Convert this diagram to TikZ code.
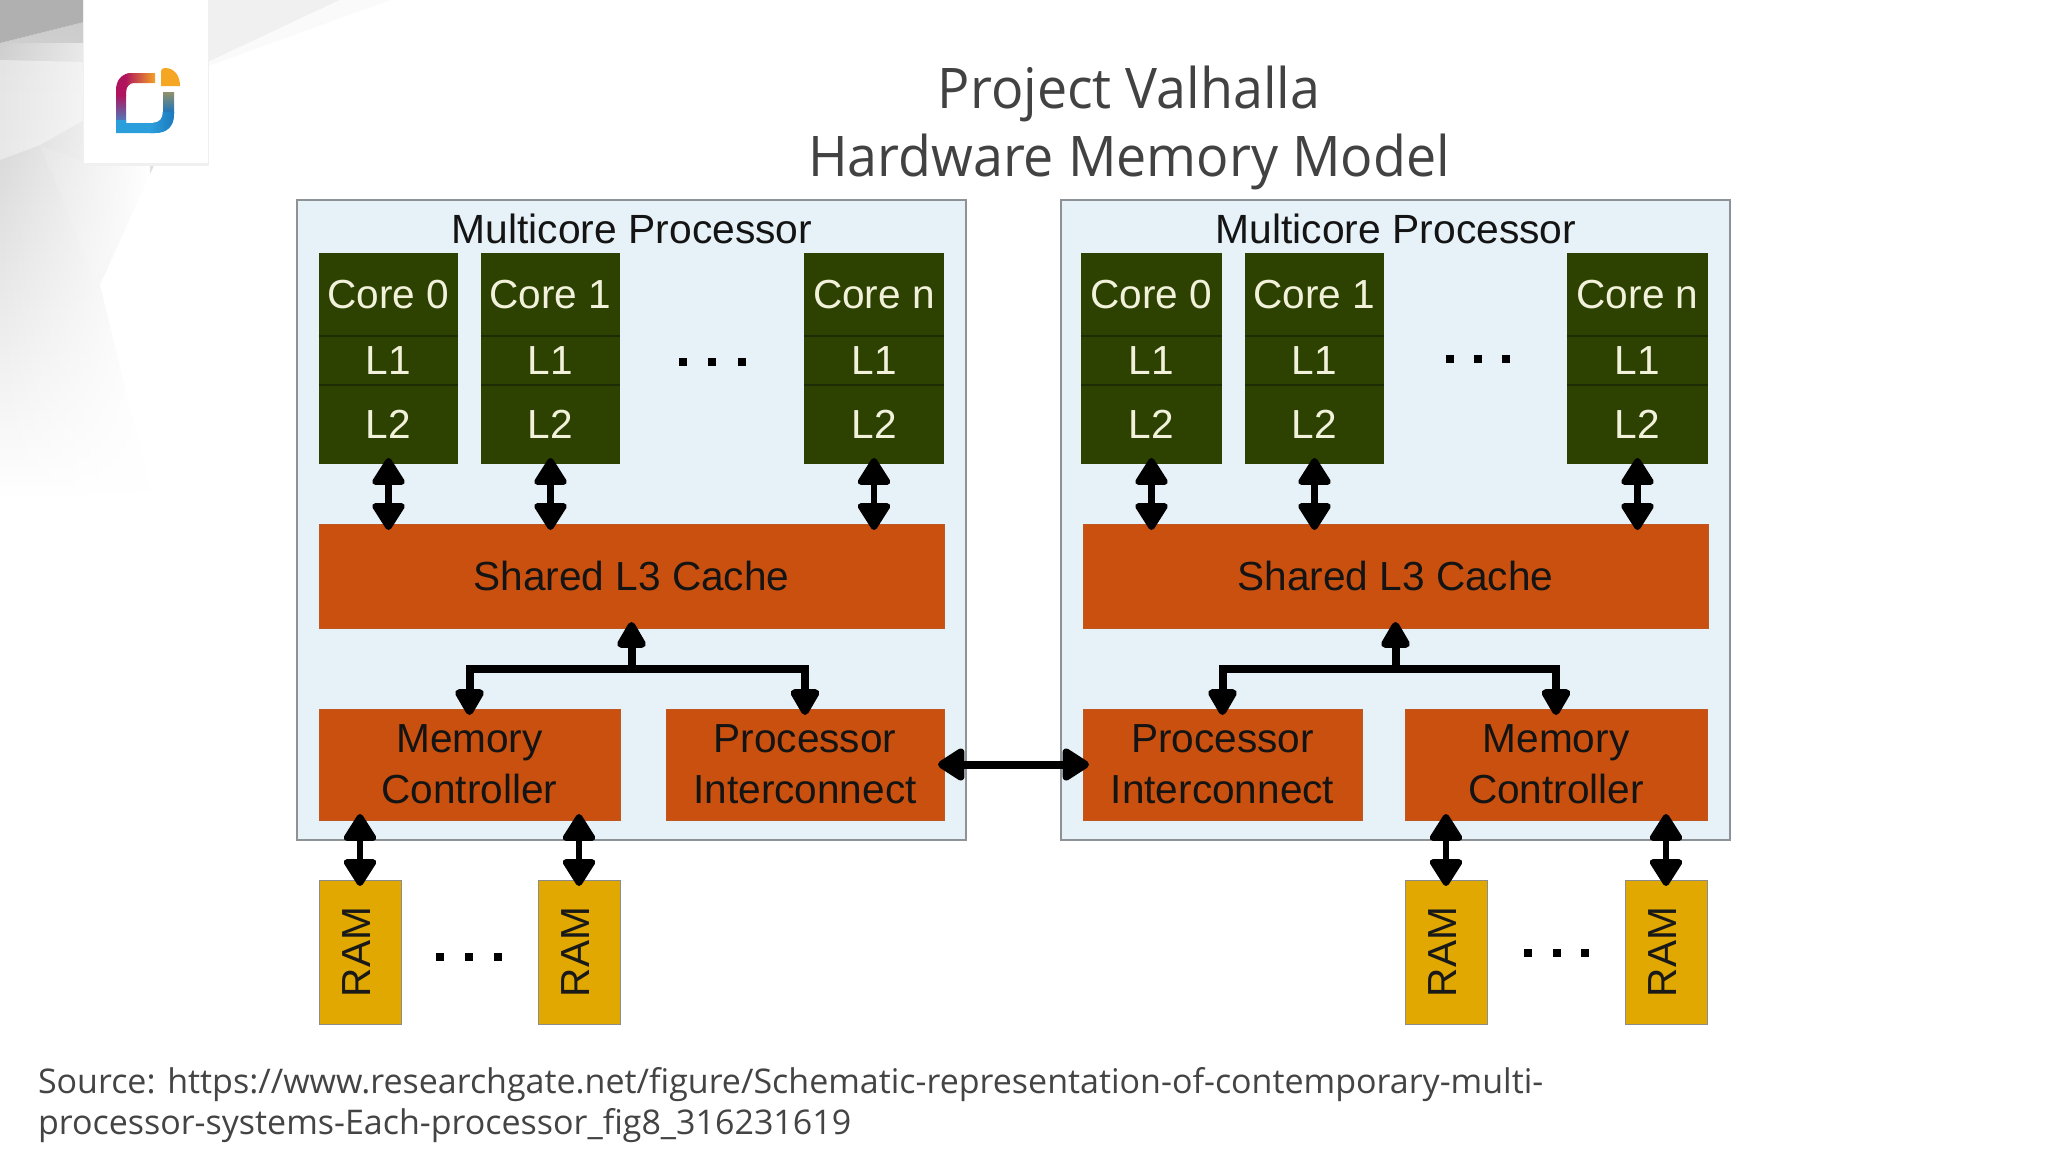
\documentclass[tikz,border=0pt]{standalone}
\usepackage{fontspec}
\setmainfont{Liberation Sans}
\newfontfamily\titlefont[FakeStretch=0.96]{Open Sans}
\newfontfamily\srcfont{Open Sans}
\usetikzlibrary{arrows.meta,fadings}
\definecolor{procbg}{HTML}{E7F2F8}
\definecolor{procln}{HTML}{8C9295}
\definecolor{coregreen}{HTML}{2D4200}
\definecolor{corediv}{HTML}{1E2C06}
\definecolor{corecream}{HTML}{F2F2DC}
\definecolor{cacheor}{HTML}{C9500F}
\definecolor{ramyel}{HTML}{E0A800}
\definecolor{titlegray}{HTML}{424242}
\definecolor{srcgray}{HTML}{444444}
\definecolor{logomag}{HTML}{B0145E}
\definecolor{logoorg}{HTML}{F5A623}
\definecolor{logoblu}{HTML}{2A9FDC}
\definecolor{logodbl}{HTML}{1C76BC}
\newcommand{\fsz}[2]{\fontsize{#1pt}{#2pt}\selectfont}
\newcommand{\bx}[7]{%
  \pgfmathsetmacro{\bxw}{(#5-#3)*0.5}%
  \pgfmathsetmacro{\bxh}{(#6-#4)*0.5}%
  \pgfmathsetmacro{\bxx}{(#3+#5)/2}%
  \pgfmathsetmacro{\bxy}{(#4+#6)/2}%
  \node[#2,minimum width=\bxw pt,minimum height=\bxh pt] (#1) at (\bxx,\bxy) {#7};}
\newcommand{\corecol}[4]{%
  \bx{#1a}{corecell}{#2}{253}{#3}{336}{#4}
  \bx{#1b}{corecell}{#2}{336}{#3}{385}{L1}
  \bx{#1c}{corecell}{#2}{385}{#3}{464}{L2}
  \draw[corediv,line width=1pt] (#1a.south west) -- (#1a.south east);
  \draw[corediv,line width=1pt] (#1b.south west) -- (#1b.south east);}
\newcommand{\threedots}[5]{%
  \node[dotsq] (#5a) at (#1,#4) {};\node[dotsq] (#5b) at (#2,#4) {};\node[dotsq] (#5c) at (#3,#4) {};}
\newcommand{\ramlabel}{\rotatebox{90}{RAM}\kern3pt}
\tikzset{
  x=0.5pt,y=-0.5pt,
  basecell/.style={inner sep=0pt,outer sep=0pt,align=center},
  procbox/.style={basecell,fill=procbg,draw=procln,line width=1pt},
  corecell/.style={basecell,fill=coregreen,text=corecream,font=\fsz{20.3}{24}},
  cachebox/.style={basecell,fill=cacheor,draw=cacheor!85!gray,line width=0.5pt,text=black!92,font=\fsz{20.3}{25.5}},
  rambox/.style={basecell,fill=ramyel,draw=black!45,line width=0.5pt,text=black!90,font=\fsz{20.3}{24}},
  headlabel/.style={basecell,text=black!92,font=\fsz{20.4}{24}},
  biarrow/.style={line width=3.2pt,{Triangle[length=15pt,width=18pt,round]}-{Triangle[length=15pt,width=18pt,round]},shorten <=-3pt,shorten >=-3pt,black},
  busarrow/.style={line width=4pt,-{Triangle[length=15pt,width=16pt,round]},shorten >=-3pt,black},
  dotsq/.style={fill=black,inner sep=0pt,minimum size=4.2pt},
}
\begin{document}
\begin{tikzpicture}
\useasboundingbox (0,0) rectangle (2048,1152);
\fill[white] (0,0) rectangle (2048,1152);
% background facets
\shade[top color=black!20,bottom color=white]
  (0,43) -- (84,22) -- (84,163) -- (155,163) -- (100,285) -- (150,490) -- (0,500) -- cycle;
\fill[black!5,opacity=.6] (0,60) -- (84,62) -- (84,120) -- (40,145) -- (0,160) -- cycle;
\fill[white,opacity=.12] (40,145) -- (84,163) -- (155,163) -- (95,280) -- cycle;
\fill[white,path fading=west] (0,43) rectangle (150,500);
\fill[black!6] (208,0) -- (340,0) -- (208,62) -- cycle;
\fill[black!2] (340,0) -- (390,0) -- (208,66) -- (208,62) -- cycle;
\fill[black!31] (0,0) -- (84,0) -- (84,22) -- (0,43) -- cycle;
% card
\fill[black!6] (83,0) rectangle (209,166);
\fill[white] (84,0) rectangle (208,163);
% logo
\begin{scope}
\clip (155,73) -- (132,73) .. controls (122,73) and (116,80) .. (116,90) -- (116,133) -- (155,133)
  .. controls (167,133) and (174,126) .. (174,114) -- (174,92) -- (163,92) -- (163,112)
  .. controls (163,119) and (159,123) .. (153,123) -- (126,123) -- (126,92)
  .. controls (126,87) and (129,83) .. (134,83) -- (155,83) -- cycle;
\shade[top color=logomag,bottom color=logoblu] (114,95) rectangle (176,130);
\fill[logoblu] (114,120) rectangle (176,136);
\fill[logomag] (114,70) rectangle (130,96);
\shade[left color=logomag,right color=logoorg] (125,70) rectangle (156,92);
\shade[top color=logoorg!60!logodbl,bottom color=logodbl] (160,90) rectangle (176,112);
\shade[left color=logoblu,right color=logodbl] (150,112) rectangle (176,136);
\end{scope}
\fill[logoorg] (161,72) .. controls (161,69) and (162,68) .. (165,68)
  .. controls (174,68) and (180,75) .. (180,86) -- (161,86) -- cycle;
% title
\node[basecell,text=titlegray,font=\titlefont\fsz{28}{34}] (title) at (1129,128) {Project Valhalla\\Hardware Memory Model};
% processors
\bx{procL}{procbox}{297}{200}{966}{840}{}
\bx{procR}{procbox}{1061}{200}{1730}{840}{}
\node[headlabel] (headL) at (632,229) {Multicore Processor};
\node[headlabel] (headR) at (1396,229) {Multicore Processor};
\corecol{La}{319}{458}{Core 0}
\corecol{Lb}{481}{620}{Core 1}
\corecol{Ln}{804}{944}{Core n}
\corecol{Ra}{1081}{1222}{Core 0}
\corecol{Rb}{1245}{1384}{Core 1}
\corecol{Rn}{1567}{1708}{Core n}
\bx{l3L}{cachebox}{319}{524}{944}{628}{Shared L3 Cache}
\bx{l3R}{cachebox}{1083}{524}{1708}{628}{Shared L3 Cache}
\bx{memL}{cachebox}{319}{709}{620}{820}{Memory\\Controller}
\bx{intL}{cachebox}{666}{709}{944}{820}{Processor\\Interconnect}
\bx{intR}{cachebox}{1083}{709}{1362}{820}{Processor\\Interconnect}
\bx{memR}{cachebox}{1405}{709}{1707}{820}{Memory\\Controller}
\bx{ramLa}{rambox}{319}{880}{401}{1024}{\ramlabel}
\bx{ramLb}{rambox}{538}{880}{620}{1024}{\ramlabel}
\bx{ramRa}{rambox}{1405}{880}{1487}{1024}{\ramlabel}
\bx{ramRb}{rambox}{1625}{880}{1707}{1024}{\ramlabel}
% dots
\threedots{683}{712}{742}{362}{dotA}
\threedots{1450}{1478}{1506}{359}{dotB}
\threedots{440}{469}{498}{957}{dotC}
\threedots{1528}{1557}{1585}{953}{dotD}
% connectors
\foreach \c in {La,Lb,Ln}{\draw[biarrow] (\c c.south) -- (\c c.south |- l3L.north);}
\foreach \c in {Ra,Rb,Rn}{\draw[biarrow] (\c c.south) -- (\c c.south |- l3R.north);}
\coordinate (busL) at (l3L.south |- 0,669);
\coordinate (busR) at (l3R.south |- 0,669);
\draw[busarrow] (busL) -- (l3L.south);
\draw[busarrow] (busR) -- (l3R.south);
\draw[busarrow] (busL) -- (busL -| memL.north) -- (memL.north);
\draw[busarrow] (busL) -- (busL -| intL.north) -- (intL.north);
\draw[busarrow] (busR) -- (busR -| intR.north) -- (intR.north);
\draw[busarrow] (busR) -- (busR -| memR.north) -- (memR.north);
\draw[biarrow,line width=4pt] (intL.east) -- (intR.west);
\foreach \r/\m in {ramLa/memL,ramLb/memL,ramRa/memR,ramRb/memR}{\draw[biarrow] (\r.north |- \m.south) -- (\r.north);}
% source
\node[basecell,anchor=north west,align=left,text=srcgray,font=\srcfont\fsz{17}{20.8}] (src) at (38,1067)
 {Source: https://www.researchgate.net/figure/Schematic-representation-of-contemporary-multi-\\processor-systems-Each-processor\_fig8\_316231619};
\end{tikzpicture}
\end{document}
